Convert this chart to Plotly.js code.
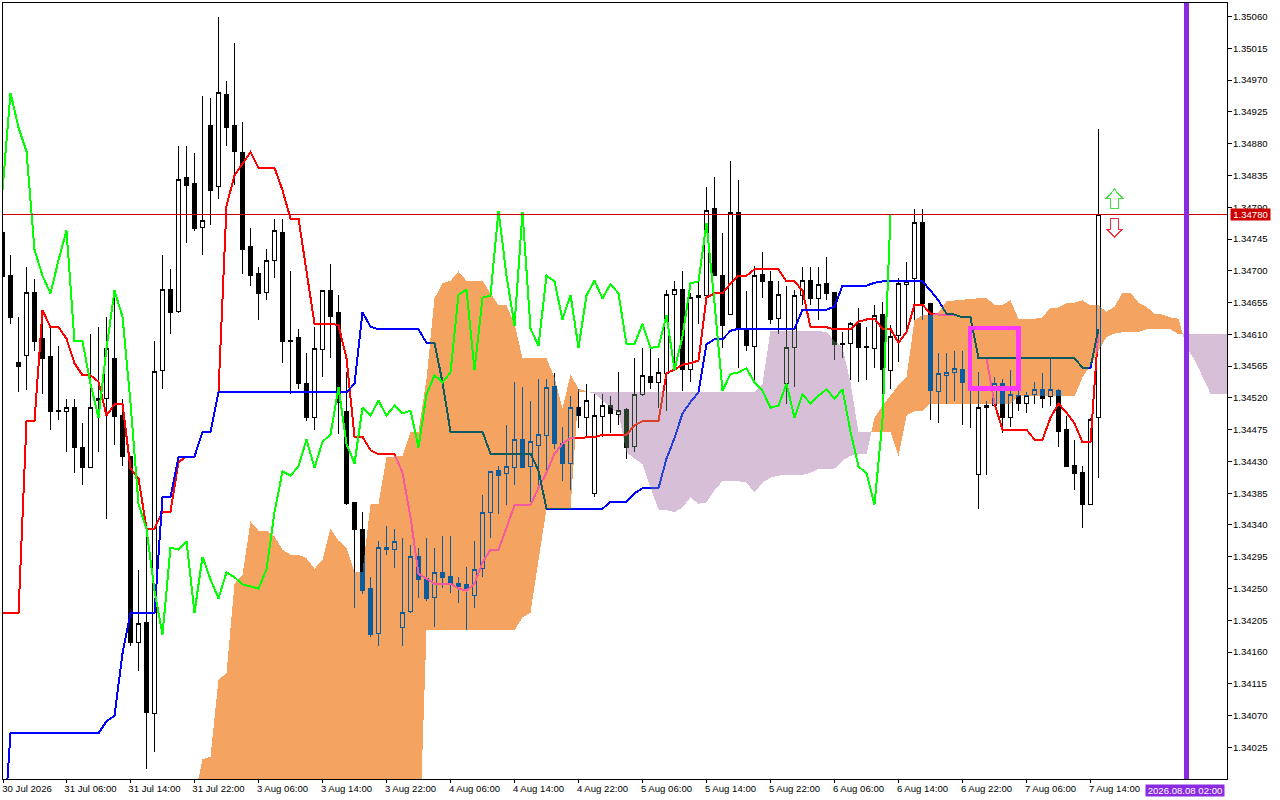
<!DOCTYPE html>
<html><head><meta charset="utf-8">
<script src="https://cdn.plot.ly/plotly-3.0.1.min.js"></script>
<style>html,body{margin:0;padding:0;background:#fff;overflow:hidden}#chart{width:1280px;height:800px}
.main-svg path{shape-rendering:crispEdges}
</style>
</head><body><div id="chart"></div>
<script>
// All series are in points above 1.34000 (1 point = 0.00001), one value per hourly bar.
const opens=[754,693,570,580,669,604,579,502,501,506,
450,421,516,519,576,495,437,174,202,73,
559,673,642,832,824,761,906,819,950,906,
867,734,696,669,715,754,601,606,540,492,
588,672,641,501,372,334,250,187,308,305,
195,218,295,264,237,273,267,257,256,240,
278,358,417,413,421,461,423,453,467,536,
455,427,506,492,385,494,509,496,504,451,
525,550,542,554,666,673,560,662,665,788,
693,638,783,615,593,695,685,632,540,591,
665,686,661,682,669,597,597,625,593,590,
638,559,608,681,689,768,654,529,552,556,
560,536,411,506,509,540,492,523,512,525,
532,522,530,475,424,414,369,492];
const highs=[754,723,635,706,688,641,621,594,519,519,
485,610,620,635,664,518,437,276,324,601,
722,703,876,877,867,947,944,1059,969,1023,
911,761,705,731,774,773,699,618,584,621,
673,709,665,556,372,358,267,317,339,334,
322,311,307,322,307,324,324,266,280,318,
383,417,423,482,543,536,516,547,547,555,
479,523,533,539,525,525,523,556,506,577,
591,591,577,673,686,700,669,685,819,833,
754,856,829,671,707,727,700,685,679,673,
705,706,706,720,669,613,628,648,620,652,
656,623,690,713,788,788,654,584,584,587,
587,573,557,516,550,547,560,530,528,543,
555,576,532,494,461,424,492,901];
const lows=[692,625,529,531,586,526,475,489,444,413,
397,421,443,348,453,424,168,133,-5,18,
532,610,640,740,757,722,765,802,877,822,
695,678,631,659,690,570,525,532,487,474,
549,577,469,369,222,242,181,169,297,279,
169,216,236,232,195,251,243,230,192,223,
266,322,355,369,397,421,372,396,413,448,
402,389,478,464,380,464,470,481,433,444,
522,532,505,502,563,530,542,624,662,692,
591,637,563,586,546,662,624,611,512,535,
651,651,631,658,574,576,546,542,545,563,
525,533,571,611,630,631,488,485,511,516,
481,477,362,411,509,470,479,502,498,512,
505,509,450,423,389,336,368,407];
const closes=[692,634,564,669,600,576,501,501,506,450,
421,506,519,590,494,437,174,200,74,557,
673,641,829,821,760,771,814,952,903,869,
730,693,668,715,757,600,600,540,492,590,
672,635,513,370,334,247,185,308,305,317,
216,295,263,236,273,266,256,253,250,277,
358,416,410,423,461,421,458,468,535,455,
427,506,495,516,495,509,498,502,450,525,
552,542,556,666,673,560,662,665,785,693,
622,783,618,594,693,685,631,666,591,665,
686,661,681,668,596,596,625,591,592,637,
560,607,682,685,768,654,530,554,556,562,
542,530,506,509,540,492,525,512,523,532,
519,532,472,423,413,369,489,780];
const tenkan=[215,215,215,487,487,644,620,620,604,569,
552,552,543,495,511,511,420,406,335,335,
359,359,429,437,437,472,472,528,792,835,
852,868,846,846,846,814,774,774,698,625,
625,625,623,576,465,465,446,440,440,440,
414,351,271,264,257,257,257,250,247,257,
287,305,305,336,368,368,368,393,414,441,
455,463,464,464,464,468,468,468,468,481,
487,487,487,555,560,567,569,573,662,668,
668,682,693,693,702,702,702,702,685,685,
672,620,620,620,617,617,617,628,631,632,
618,618,598,613,652,652,639,638,638,638,
634,634,576,576,512,475,475,475,475,461,
461,492,512,499,484,457,457,618];
const kijun=[-125,45,45,45,45,45,45,45,45,45,
45,45,45,62,70,158,215,215,215,215,
380,380,436,436,437,472,472,528,528,528,
528,528,528,528,528,528,528,528,528,528,
528,528,528,528,540,641,621,617,617,617,
617,617,617,598,598,542,472,472,472,472,
472,441,441,441,441,441,441,417,363,363,
363,363,363,363,363,363,373,373,373,385,
392,392,392,434,463,498,514,528,596,603,
603,615,618,618,618,618,618,618,618,618,
645,645,645,645,649,679,679,679,679,683,
685,685,685,685,685,685,672,658,639,638,
634,634,576,576,576,576,576,576,576,576,
576,576,576,576,576,563,563,618];
// Chikou span: the closes drawn 26 bars back.
const chikou=closes.slice(26);
// Senkou spans as drawn, starting at bar 24 and running past the last candle.
const cloudStart=24;
const senkouA=[-46,8,12,121,130,257,269,345,332,332,
324,305,298,298,293,278,291,335,318,308,
274,274,369,370,436,437,438,472,472,547,
661,682,686,699,686,686,686,668,651,651,
625,576,576,576,576,549,505,553,533,529,
526,516,506,498,443,434,426,393,362,361,
358,365,379,370,372,389,402,402,402,400,
386,400,407,410,411,411,411,414,420,420,
420,431,438,440,440,492,509,523,538,549,
630,637,637,641,657,658,659,661,661,661,
652,652,658,632,632,632,634,648,648,654,
655,658,651,651,642,649,669,669,655,649,
639,638,634,632,591,574,549,526,525,525,525];
const senkouB=[-149,-149,-149,-149,-149,-149,-149,-149,-149,-149,
-149,-149,-149,-149,-149,-149,-149,-149,-149,-149,
-149,-149,-149,-149,-149,-149,-149,-149,-149,191,
191,191,191,191,191,191,191,191,191,191,
191,209,216,290,363,363,363,363,528,528,
528,528,528,528,528,528,528,528,528,528,
528,528,528,528,528,528,528,528,528,528,
528,540,615,615,615,615,615,615,615,613,
601,591,542,471,471,471,471,471,438,495,
501,502,512,512,512,512,512,512,512,512,
512,512,512,522,522,522,522,522,522,522,
522,549,566,587,606,611,613,613,613,617,
617,617,617,610,610,610,610,610,610,610,610];
const xLabels=["30 Jul 2026","31 Jul 06:00","31 Jul 14:00","31 Jul 22:00","3 Aug 06:00","3 Aug 14:00","3 Aug 22:00","4 Aug 06:00","4 Aug 14:00","4 Aug 22:00","5 Aug 06:00","5 Aug 14:00","5 Aug 22:00","6 Aug 06:00","6 Aug 14:00","6 Aug 22:00","7 Aug 06:00","7 Aug 14:00"];
const xLabelBars=[0.07,8,16,24,32,40,48,56,64,72,80,88,96,104,112,120,128,136];
const yLabels=["1.35060","1.35015","1.34970","1.34925","1.34880","1.34835","1.34790","1.34745","1.34700","1.34655","1.34610","1.34565","1.34520","1.34475","1.34430","1.34385","1.34340","1.34295","1.34250","1.34205","1.34160","1.34115","1.34070","1.34025"];
const lastPrice=1.34780, lastPriceLabel="1.34780";
const cursorBar=148, cursorLabel="2026.08.08 02:00";
const boxBars=[120.94,127], boxPoints=[619,533];

const P=v=>1.34+v/1e5;
const bars=closes.map((_,i)=>i);
const uiFont='"Liberation Sans", Arial, sans-serif';

// Split the span pair into bull (A above B) and bear (B above A) polygons.
function cloudPolys(sign){
  const xs=[],ys=[];let up=[],dn=[];
  const flush=()=>{ if(up.length){
    const pts=up.concat(dn.reverse());
    pts.forEach(p=>{xs.push(p[0]);ys.push(P(p[1]));});
    xs.push(null);ys.push(null);} up=[];dn=[]; };
  for(let k=0;k<senkouA.length;k++){
    const x=cloudStart+k,a=senkouA[k],b=senkouB[k],s=(a-b)*sign;
    if(s>=0){up.push([x,a]);dn.push([x,b]);}
    if(k+1<senkouA.length){
      const a2=senkouA[k+1],b2=senkouB[k+1],d1=a-b,d2=a2-b2;
      if(d1*d2<0){
        const t=d1/(d1-d2),cx=x+t,cy=a+(a2-a)*t;
        up.push([cx,cy]);dn.push([cx,cy]);
        if(s>=0)flush();
      }
    }
  }
  flush();
  return {x:xs,y:ys};
}
const bull=cloudPolys(1), bear=cloudPolys(-1);
const lineTrace=(y,color,x0=0)=>({type:'scatter',mode:'lines',x:y.map((_,i)=>i+x0),y:y.map(P),
  line:{color,width:2,shape:'linear'},hoverinfo:'skip',showlegend:false});
const polyTrace=(p,color)=>({type:'scatter',mode:'lines',x:p.x,y:p.y,fill:'toself',fillcolor:color,
  line:{width:0,color:color},hoverinfo:'skip',showlegend:false,connectgaps:false});

const data=[
 {type:'candlestick',x:bars,open:opens.map(P),high:highs.map(P),low:lows.map(P),close:closes.map(P),
  increasing:{line:{color:'#000',width:1},fillcolor:'#fff'},
  decreasing:{line:{color:'#000',width:1},fillcolor:'#000'},
  whiskerwidth:0,hoverinfo:'skip',showlegend:false},
 lineTrace(tenkan,'#ff0000'),
 lineTrace(kijun,'#0000ff'),
 polyTrace(bull,'rgb(11,91,159)'),
 polyTrace(bear,'rgb(39,64,39)'),
 lineTrace(chikou,'#00ff00')
];
const arrowAnchorBar=139;
const layout={
 width:1280,height:800,margin:{l:3,r:53,t:3,b:21,pad:0},
 paper_bgcolor:'#fff',plot_bgcolor:'#fff',boxgap:0.4,dragmode:false,showlegend:false,
 font:{family:uiFont,size:10,color:'#000'},
 xaxis:{range:[0.0625,153.0625],tickmode:'array',tickvals:xLabelBars,ticktext:xLabels,
  ticks:'outside',ticklen:3,tickwidth:1,tickcolor:'#000',showgrid:false,zeroline:false,
  showline:true,linecolor:'#000',linewidth:1,mirror:true,rangeslider:{visible:false},
  tickangle:0,ticklabelshift:24,ticklabelstandoff:-3,tickfont:{family:uiFont,size:9.6,color:'#000'},automargin:false},
 yaxis:{range:[P(-19.7),P(1079.2)],side:'right',tickmode:'array',tickvals:yLabels.map(Number),ticktext:yLabels,
  ticks:'outside',ticklen:4,tickwidth:1,tickcolor:'#000',showgrid:false,zeroline:false,
  showline:true,linecolor:'#000',linewidth:1,mirror:true,ticklabelstandoff:-1,
  tickfont:{family:uiFont,size:9.6,color:'#000'},automargin:false},
 shapes:[
  {type:'line',xref:'paper',x0:0,x1:1,yref:'y',y0:lastPrice,y1:lastPrice,line:{color:'#cc0000',width:1}},
  {type:'line',xref:'x',x0:cursorBar,x1:cursorBar,yref:'paper',y0:0,y1:1,line:{color:'#8a2be2',width:5}},
  {type:'rect',xref:'x',yref:'y',x0:boxBars[0],x1:boxBars[1],y0:P(boxPoints[0]),y1:P(boxPoints[1]),
   line:{color:'#ff38ff',width:4.5},fillcolor:'rgba(0,0,0,0)'},
  {type:'path',xref:'x',yref:'y',xsizemode:'pixel',ysizemode:'pixel',xanchor:arrowAnchorBar,yanchor:lastPrice,
   path:'M0,25 L8,16 L4,16 L4,6 L-4,6 L-4,16 L-8,16 Z',line:{color:'#45e045',width:1.3},fillcolor:'#fff'},
  {type:'path',xref:'x',yref:'y',xsizemode:'pixel',ysizemode:'pixel',xanchor:arrowAnchorBar,yanchor:lastPrice,
   path:'M0,-23 L8,-15 L4,-15 L4,-4 L-4,-4 L-4,-15 L-8,-15 Z',line:{color:'#ff2a3a',width:1.3},fillcolor:'#fff'}
 ],
 annotations:[
  {xref:'paper',yref:'y',x:1,y:lastPrice,xanchor:'left',yanchor:'middle',xshift:3,text:lastPriceLabel,showarrow:false,
   bgcolor:'#cc0000',font:{family:uiFont,size:9.6,color:'#fff'},width:39,height:11,borderpad:0,align:'center'},
  {xref:'paper',yref:'paper',x:1,y:0,xanchor:'right',yanchor:'top',xshift:-2,yshift:-5,text:cursorLabel,showarrow:false,
   bgcolor:'#8a2be2',font:{family:uiFont,size:9.6,color:'#fff'},width:78,height:11,borderpad:0,align:'center'}
 ]
};
Plotly.newPlot('chart',data,layout,{displayModeBar:false,staticPlot:true}).then(gd=>{
  // The cloud inverts what lies under it, as the terminal draws it.
  const scatter=gd.querySelector('.scatterlayer');
  const traces=scatter.querySelectorAll('.trace');
  [2,3].forEach(k=>{traces[k].style.mixBlendMode='difference';});
  const holder=scatter.parentNode;
  const rect=document.createElementNS('http://www.w3.org/2000/svg','rect');
  rect.setAttribute('x',-10);rect.setAttribute('y',-10);rect.setAttribute('width',2000);rect.setAttribute('height',2000);rect.setAttribute('fill','#fff');
  holder.insertBefore(rect,holder.firstChild);
});
</script></body></html>
